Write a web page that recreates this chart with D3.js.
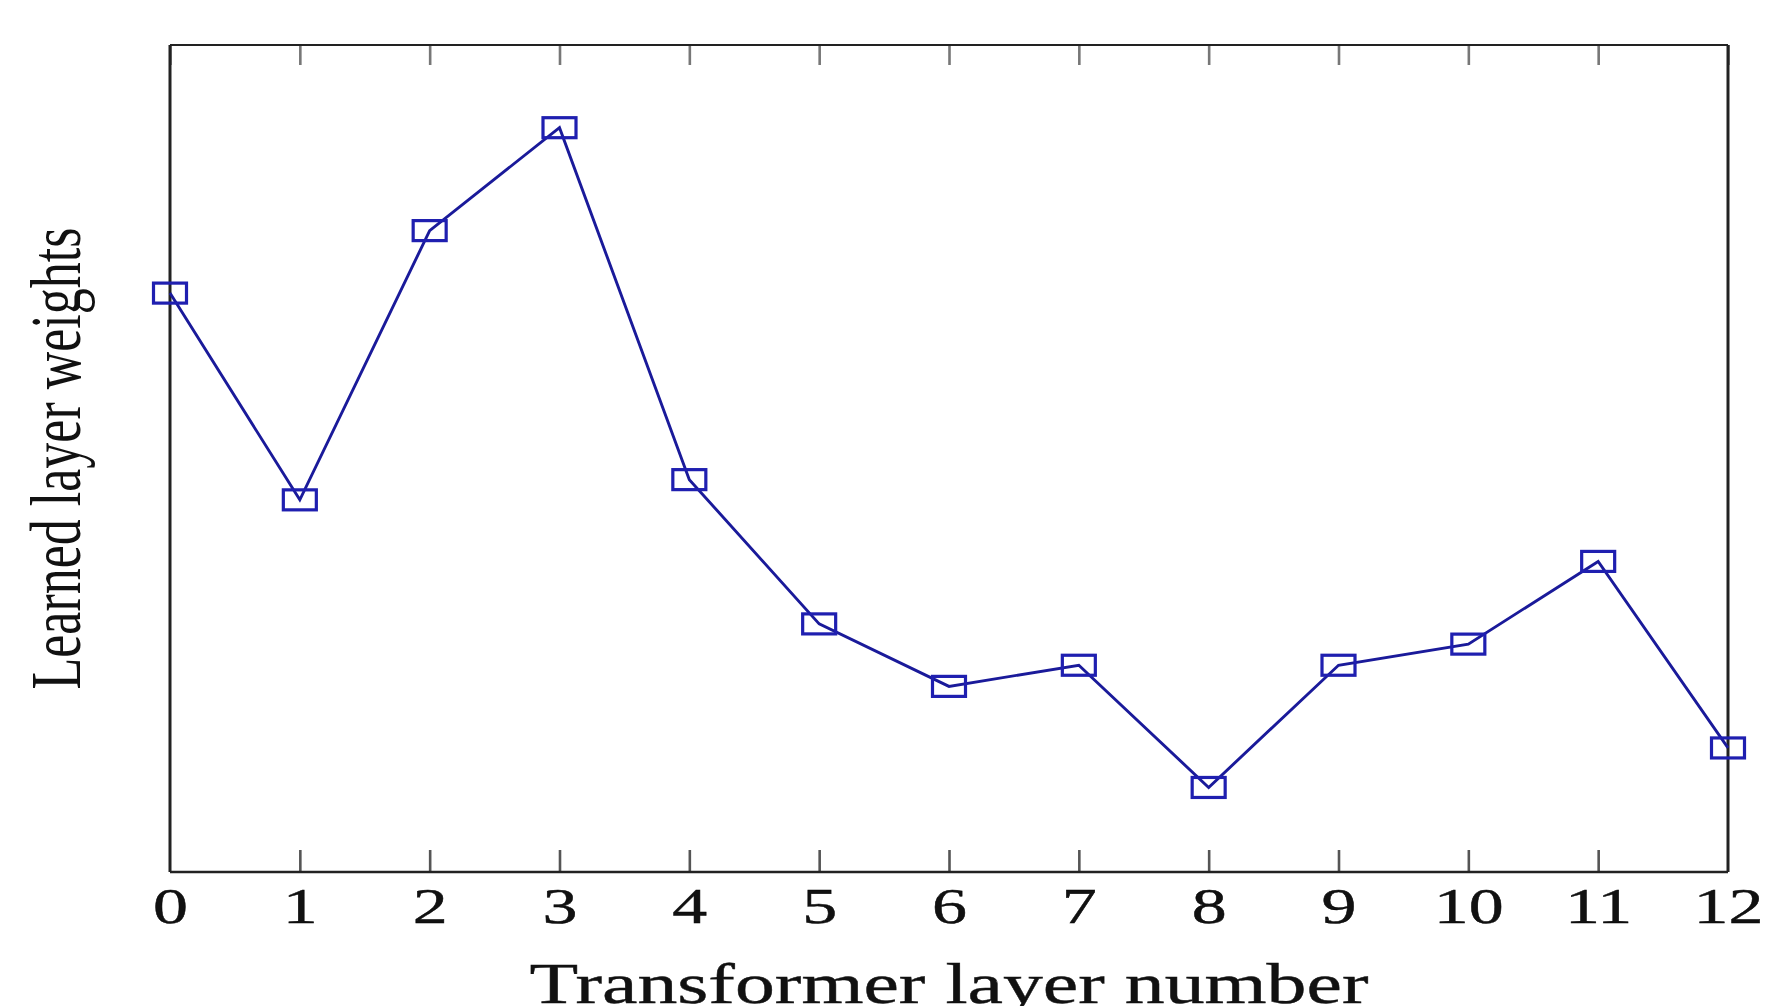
<!DOCTYPE html>
<html>
<head>
<meta charset="utf-8">
<script src="https://cdn.jsdelivr.net/npm/d3@7"></script>
<style>
  body { margin: 0; background: #fff; }
  svg { display: block; }
  text { font-family: "Liberation Serif", "DejaVu Serif", serif; fill: #111; }
</style>
</head>
<body>
<div id="chart"></div>
<script>
// layer index along x, learned scalar weight per layer
let layers = [0, 1, 2, 3, 4, 5, 6, 7, 8, 9, 10, 11, 12];
let weights = [0.0930, 0.0705, 0.0998, 0.1110, 0.0727, 0.0570, 0.0502, 0.0525, 0.0392, 0.0525, 0.0548, 0.0638, 0.0435];
let x_label = "Transformer layer number";
let y_label = "Learned layer weights";

let width = 1769, height = 1006;
let margin = {top: 45, right: 41, bottom: 134, left: 170};
let stretch = 1.4; // source picture is widened horizontally

let svg = d3.select("#chart")
    .append("svg")
    .attr("width", width)
    .attr("height", height);

let x = d3.scaleLinear()
    .domain([0, 12])
    .range([margin.left, width - margin.right]);

let y = d3.scaleLinear()
    .domain([0.03, 0.12])
    .range([height - margin.bottom, margin.top]);

// top ticks (no labels)
let topAxis = svg.append("g")
    .attr("transform", `translate(0,${margin.top})`)
    .call(d3.axisTop(x).tickValues(layers).tickSizeInner(-20).tickSizeOuter(0).tickFormat(""));
topAxis.select(".domain").remove();
topAxis.selectAll("line").attr("stroke", "#777").attr("stroke-width", 2.6);

// bottom ticks + labels
let bottomAxis = svg.append("g")
    .attr("transform", `translate(0,${height - margin.bottom})`)
    .call(d3.axisBottom(x).tickValues(layers).tickSizeInner(-22).tickSizeOuter(0).tickPadding(0));
bottomAxis.select(".domain").remove();
bottomAxis.selectAll("line").attr("stroke", "#555").attr("stroke-width", 2.6);
bottomAxis.selectAll("line").filter(function(d) { return d === 0 || d === 12; }).remove();
bottomAxis.selectAll("text")
    .attr("y", 0)
    .attr("dy", null)
    .attr("transform", `translate(0,51) scale(${stretch},1)`)
    .style("font-family", "'Liberation Serif', serif")
    .style("font-size", "50px")
    .attr("fill", "#000")
    .attr("stroke", "#000")
    .attr("stroke-width", 0.4);

// frame
let f = svg.append("g").attr("fill", "none").attr("stroke", "#222");
f.append("line").attr("x1", x(0)).attr("x2", x(12)).attr("y1", y.range()[1]).attr("y2", y.range()[1]).attr("stroke-width", 2);
f.append("line").attr("x1", x(0)).attr("x2", x(12)).attr("y1", y.range()[0]).attr("y2", y.range()[0]).attr("stroke-width", 2.4);
f.append("line").attr("x1", x(0)).attr("x2", x(0)).attr("y1", y.range()[0]).attr("y2", y.range()[1]).attr("stroke-width", 3);
f.append("line").attr("x1", x(12)).attr("x2", x(12)).attr("y1", y.range()[0]).attr("y2", y.range()[1]).attr("stroke-width", 3);

// the line
let line = d3.line()
    .x(function(d, i) { return x(layers[i]); })
    .y(function(d) { return y(d); });

svg.append("path")
    .datum(weights)
    .attr("fill", "none")
    .attr("stroke", "#1a1a9a")
    .attr("stroke-width", 2.9)
    .attr("d", line);

// hollow square markers (wider than tall, like the source)
let mw = 33, mh = 20;
svg.append("g").selectAll("rect")
    .data(weights)
    .enter()
    .append("rect")
    .attr("x", function(d, i) { return x(layers[i]) - mw / 2; })
    .attr("y", function(d) { return y(d) - mh / 2; })
    .attr("width", mw)
    .attr("height", mh)
    .attr("fill", "none")
    .attr("stroke", "#1f1fb0")
    .attr("stroke-width", 3.2);

// axis labels
svg.append("text")
    .attr("transform", `translate(${(x(0) + x(12)) / 2},1003) scale(${stretch},1)`)
    .style("text-anchor", "middle")
    .style("font-size", "57px")
    .attr("stroke", "#111")
    .attr("stroke-width", 0.4)
    .text(x_label);

svg.append("text")
    .attr("transform", `translate(80,${(y.range()[0] + y.range()[1]) / 2}) scale(${stretch},1) rotate(-90)`)
    .style("text-anchor", "middle")
    .style("font-size", "52px")
    .text(y_label);
</script>
</body>
</html>
